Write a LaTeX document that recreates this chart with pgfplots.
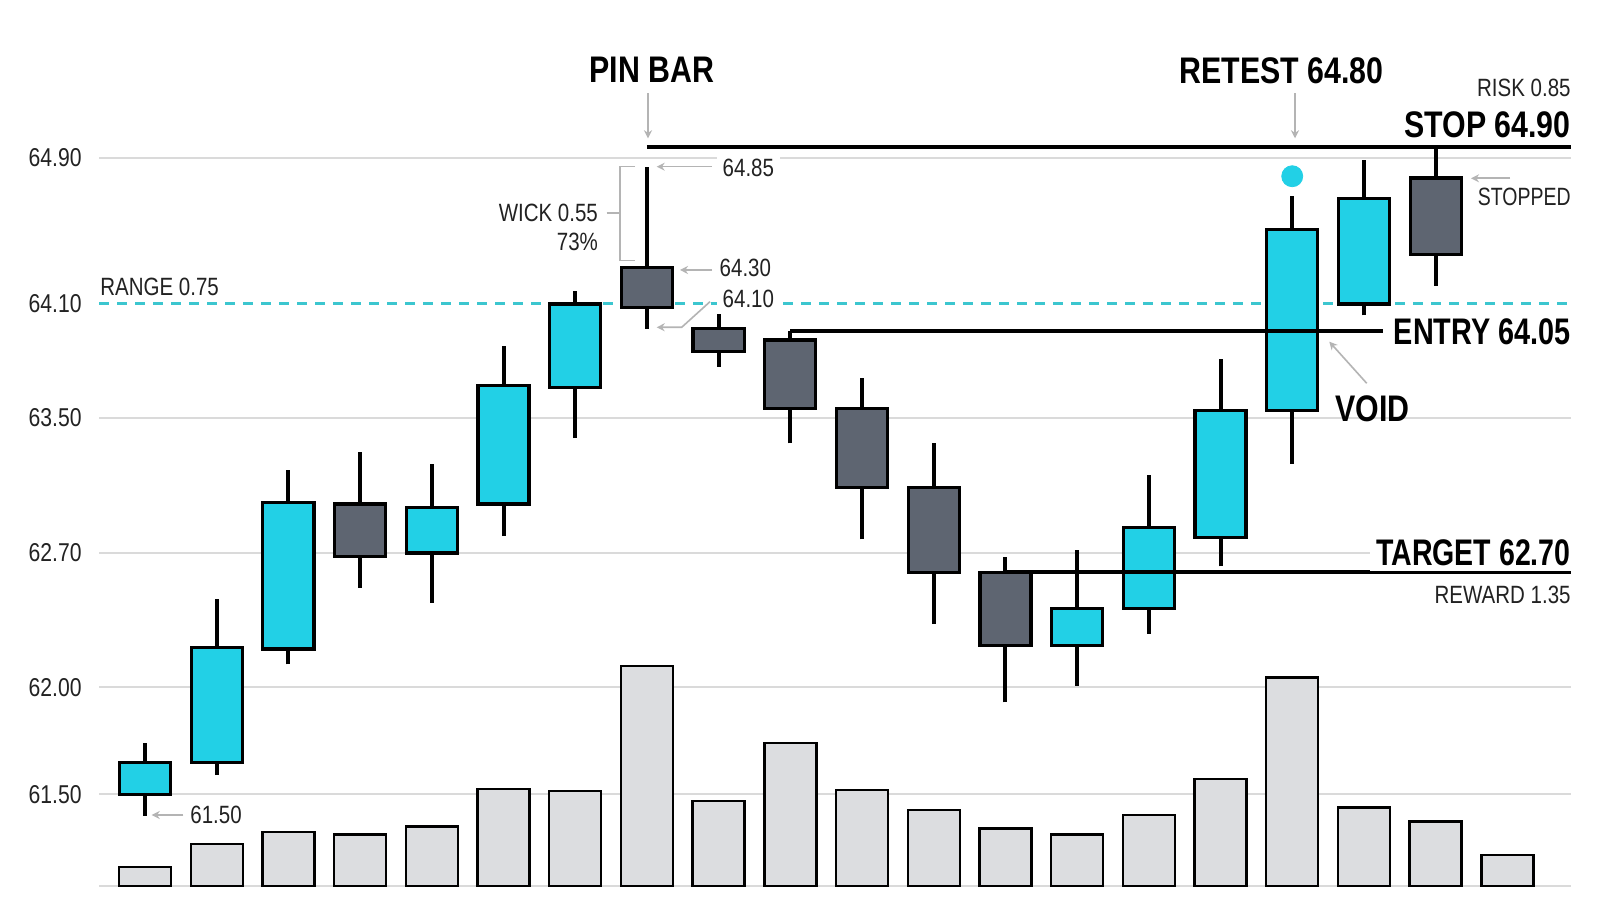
\documentclass[border=0pt]{standalone}
\usepackage{fontspec}
\setmainfont{Liberation Sans}[FakeStretch=0.82]
\usepackage{pgfplots}
\pgfplotsset{compat=1.18}
\usetikzlibrary{arrows.meta}
\definecolor{upc}{HTML}{22D0E6}
\definecolor{dnc}{HTML}{5E6571}
\definecolor{volc}{HTML}{DCDDE0}
\definecolor{gridc}{HTML}{DADADA}
\definecolor{rangec}{HTML}{3CC6CF}
\definecolor{annc}{HTML}{B4B4B4}
\definecolor{txtc}{HTML}{222222}
\newcommand\regf{\fontsize{12.5}{15}\selectfont}
\newcommand\bigf{\fontsize{18.5}{22}\selectfont\bfseries}
% candle: x, open, high, low, close, fill colour
\newcommand\candle[6]{%
  \pgfmathsetmacro\xa{#1-0.356}\pgfmathsetmacro\xb{#1+0.356}%
  \edef\tmp{\noexpand\addplot[draw=black, line width=2pt, forget plot] coordinates {(#1,#4) (#1,#3)};
  \noexpand\addplot[fill=#6, draw=black, line width=1.6pt, forget plot] coordinates {(\xa,#2) (\xb,#2) (\xb,#5) (\xa,#5)} -- cycle;}%
  \tmp}
\begin{document}
\begin{tikzpicture}
\fill[white] (0pt,0pt) rectangle (800pt,457pt);
% ---------------- price axis ----------------
\begin{axis}[
  at={(49.5pt,13.75pt)}, anchor=south west,
  width=736pt, height=393.25pt, scale only axis,
  xmin=-0.6416, xmax=19.888,
  y coord trafo/.code={\pgfmathparse{(#1>=64.1)?(610+(#1-64.1)*182.5):((#1>=63.5)?(496+(#1-63.5)*190):((#1>=62.7)?(361+(#1-62.7)*168.75):((#1>=62)?(226.5+(#1-62)*192.14):(119.5+(#1-61.5)*214))))}},
  ymin=61.07, ymax=65.2178,
  axis line style={draw=none},
  major tick length=0pt,
  xtick=\empty,
  ytick={61.5,62,62.7,63.5,64.9},
  yticklabels={61.50,62.00,62.70,63.50,64.90},
  extra y ticks={64.1}, extra y tick labels={64.10},
  extra y tick style={ymajorgrids=false},
  ymajorgrids,
  grid style={gridc, line width=1pt},
  yticklabel style={font=\fontsize{12.9}{15}\selectfont, text=txtc, anchor=east, inner sep=0pt, xshift=-8.5pt},
  clip=false,
]
% range line
\addplot[rangec, line width=1.5pt, dash pattern=on 5pt off 4pt, forget plot] coordinates {(-0.6416,64.10) (19.888,64.10)};
% candles: x, open, high, low, close
\candle{0}{61.50}{61.74}{61.40}{61.65}{upc}
\candle{1}{61.65}{62.46}{61.59}{62.21}{upc}
\candle{2}{62.20}{63.19}{62.12}{63.00}{upc}
\candle{3}{62.99}{63.30}{62.52}{62.68}{dnc}
\candle{4}{62.70}{63.23}{62.44}{62.97}{upc}
\candle{5}{62.99}{63.88}{62.80}{63.67}{upc}
\candle{6}{63.66}{64.17}{63.38}{64.10}{upc}
\candle{7}{64.30}{64.85}{63.97}{64.08}{dnc}
\candle{8}{63.97}{64.05}{63.77}{63.85}{dnc}
\candle{9}{63.91}{63.96}{63.35}{63.55}{dnc}
\candle{10}{63.55}{63.71}{62.78}{63.09}{dnc}
\candle{11}{63.09}{63.35}{62.33}{62.60}{dnc}
\candle{12}{62.60}{62.68}{61.93}{62.22}{dnc}
\candle{13}{62.22}{62.72}{62.01}{62.41}{upc}
\candle{14}{62.41}{63.16}{62.28}{62.85}{upc}
\candle{15}{62.79}{63.81}{62.63}{63.54}{upc}
\candle{16}{63.54}{64.69}{63.23}{64.51}{upc}
\candle{17}{64.10}{64.89}{64.04}{64.68}{upc}
\candle{18}{64.79}{64.96}{64.20}{64.37}{dnc}
% level lines
\addplot[black, line width=2pt, forget plot] coordinates {(7,64.96) (19.888,64.96)};
\addplot[black, line width=2pt, forget plot] coordinates {(9,63.96) (17.266,63.96)};
\addplot[black, line width=2pt, forget plot] coordinates {(12,62.60) (19.888,62.60)};
% retest dot
\addplot[only marks, mark=*, mark size=5.25pt, color=upc, mark options={fill=upc, draw=none}, forget plot] coordinates {(16,64.80)};
\end{axis}
% ---------------- volume axis ----------------
\begin{axis}[
  at={(49.5pt,13.75pt)}, anchor=south west,
  width=736pt, height=393.25pt, scale only axis,
  xmin=-0.6416, xmax=19.888,
  ymin=0, ymax=786.5,
  axis line style={draw=none},
  major tick length=0pt,
  xtick=\empty,
  ytick={0}, yticklabels={},
  ymajorgrids,
  grid style={gridc, line width=1pt},
]
\addplot[ybar, bar width=26pt, bar shift=0pt, fill=volc, draw=black, line width=1.2pt] coordinates {
(0,19.2) (1,42.2) (2,54.2) (3,51.8) (4,59.8) (5,97.7) (6,95.7) (7,220.2) (8,85.5) (9,143.6)
(10,96.7) (11,76.3) (12,57.9) (13,51.8) (14,71.5) (15,107.2) (16,208.8) (17,78.8) (18,64.8) (19,31.5)};
\end{axis}
% ---------------- annotations ----------------
\begin{scope}[x=0.5pt,y=0.5pt]
\tikzset{ann/.style={annc, line width=0.8pt}, arr/.style={ann, -{Stealth[length=4pt,width=4pt]}}}
\node[text=black, inner sep=0pt] at (652,844) {\bigf PIN BAR};
\draw[arr] (648,820.7) -- (648,775.7);
\node[text=black, inner sep=0pt] at (1281.5,843) {\bigf RETEST 64.80};
\draw[arr] (1295,820.7) -- (1295,775.7);
\node[text=txtc, inner sep=0pt, anchor=east] at (1571,825.7) {\regf RISK 0.85};
\node[text=black, inner sep=0pt, anchor=east] at (1571,789) {\bigf STOP 64.90};
\node[text=txtc, inner sep=0pt, anchor=east] at (1571,717.3) {\scalebox{0.95}[1]{\regf STOPPED}};
\draw[arr] (1510,735.7) -- (1471,735.7);
\node[text=black, inner sep=0pt, anchor=east] at (1571,582) {\scalebox{0.95}[1]{\bigf ENTRY 64.05}};
\node[text=black, inner sep=0pt, anchor=west] at (1335,505.7) {\bigf VOID};
\draw[arr] (1366.7,530.7) -- (1329.3,572.3);
\node[text=black, fill=white, inner sep=3pt, anchor=east] at (1577,361.7) {\scalebox{0.94}[1]{\bigf TARGET 62.70}};
\node[text=txtc, inner sep=0pt, anchor=east] at (1571,319) {\regf REWARD 1.35};
\node[text=txtc, fill=white, inner sep=3pt, anchor=west] at (716.3,746.3) {\regf 64.85};
\draw[arr] (711.7,747.3) -- (656.7,747.3);
\node[text=txtc, inner sep=0pt, anchor=west] at (719.3,646.3) {\regf 64.30};
\draw[arr] (712,644) -- (680,644);
\node[text=txtc, fill=white, inner sep=3pt, anchor=west] at (716.3,614.7) {\regf 64.10};
\draw[arr] (710,612.3) -- (681.7,586.7) -- (656.7,586.7);
\node[text=txtc, inner sep=0pt, anchor=east] at (598.3,701.3) {\regf WICK 0.55};
\node[text=txtc, inner sep=0pt, anchor=east] at (598.3,672.3) {\regf 73\%};
\draw[ann] (635,747.3) -- (620,747.3) -- (620,653.3) -- (635,653.3);
\draw[ann] (606.7,700.7) -- (620,700.7);
\node[text=txtc, inner sep=0pt, anchor=west] at (100,627.3) {\regf RANGE 0.75};
\node[text=txtc, inner sep=0pt, anchor=west] at (190,99) {\regf 61.50};
\draw[arr] (183.3,99) -- (151.7,99);
\end{scope}
\end{tikzpicture}
\end{document}
